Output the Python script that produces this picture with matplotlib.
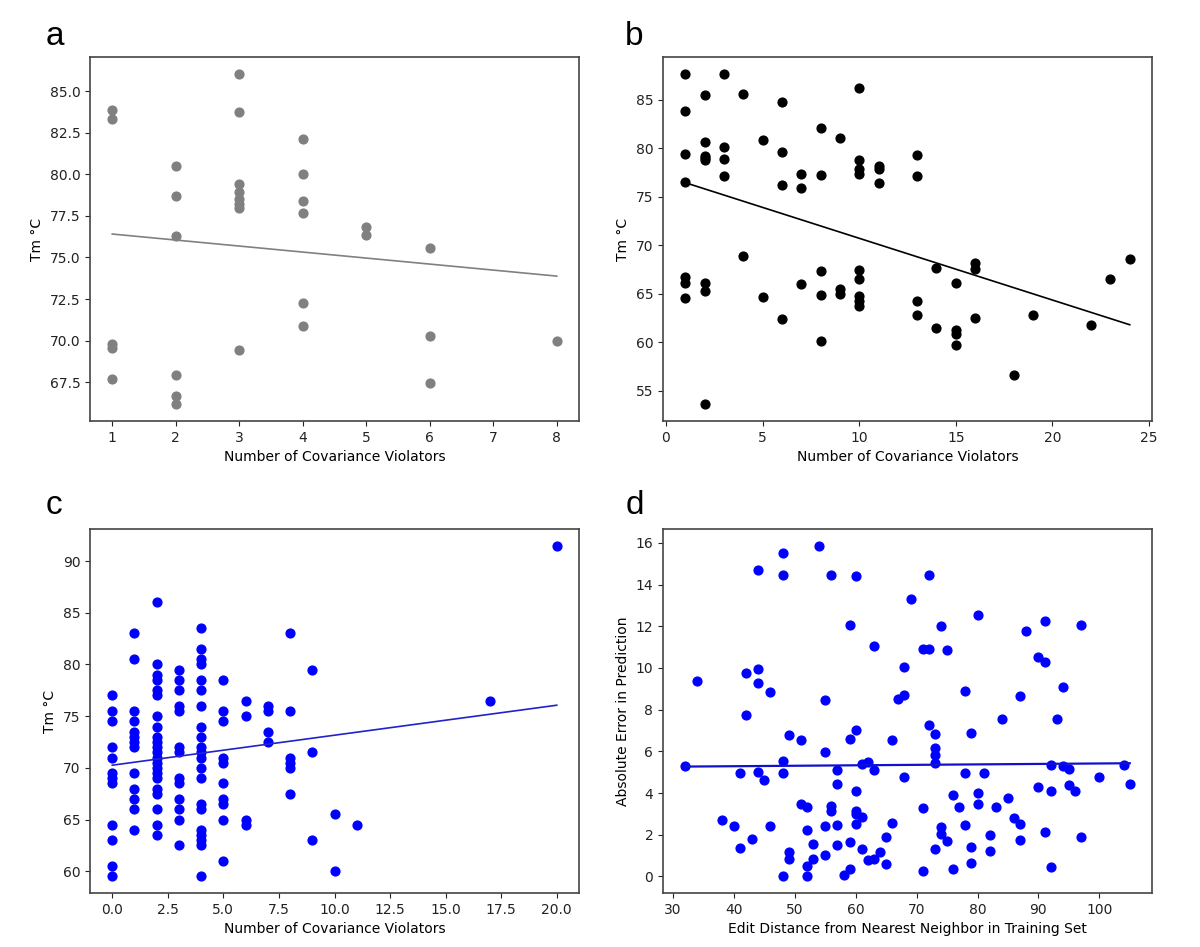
import matplotlib
matplotlib.use("Agg")
import matplotlib.pyplot as plt

# panel a: grey points
a_x = [1, 1, 1, 1, 1,
       2, 2, 2, 2, 2, 2,
       3, 3, 3, 3, 3, 3, 3, 3,
       4, 4, 4, 4, 4, 4,
       5, 5,
       6, 6, 6,
       8]
a_y = [83.86, 83.31, 69.77, 69.55, 67.70,
       80.50, 78.70, 76.29, 67.96, 66.66, 66.16,
       86.06, 83.72, 79.42, 78.94, 78.54, 78.24, 78.00, 69.45,
       82.13, 80.00, 78.40, 77.70, 72.24, 70.85,
       76.81, 76.37,
       75.57, 70.25, 67.44,
       69.95]
a_trend_x = [1, 8]
a_trend_y = [76.41, 73.88]

# panel b: black points
b_x = [1, 1, 1, 1, 1, 1, 1,
       2, 2, 2, 2, 2, 2, 2, 2,
       3, 3, 3, 3,
       4, 4,
       5, 5,
       6, 6, 6, 6,
       7, 7, 7,
       8, 8, 8, 8, 8,
       9, 9, 9,
       10, 10, 10, 10, 10, 10, 10, 10, 10,
       11, 11, 11,
       13, 13, 13, 13,
       14, 14,
       15, 15, 15, 15,
       16, 16, 16,
       18, 19, 22, 23, 24]
b_y = [87.61, 83.86, 79.39, 76.47, 66.70, 66.11, 64.57,
       85.45, 80.60, 79.22, 79.01, 78.74, 66.11, 65.25, 53.56,
       87.68, 80.08, 78.88, 77.12,
       85.62, 68.90,
       80.80, 64.60,
       84.72, 79.56, 76.19, 62.36,
       77.29, 75.85, 66.01,
       82.11, 77.26, 67.35, 64.84, 60.13,
       81.04, 65.46, 64.98,
       86.24, 78.77, 77.84, 77.36, 67.39, 66.53, 64.75, 64.20, 63.67,
       78.12, 77.88, 76.37,
       79.26, 77.12, 64.19, 62.74,
       67.59, 61.44,
       66.05, 61.26, 60.85, 59.72,
       68.18, 67.56, 62.47,
       56.62, 62.74, 61.78, 66.46, 68.56]
b_trend_x = [1, 24]
b_trend_y = [76.43, 61.78]

# panel c: blue points
c_x = ([0] * 12 + [1] * 13 + [2] * 22 + [3] * 13 + [4] * 21 + [5] * 10
       + [6] * 4 + [7] * 4 + [8] * 6 + [9] * 3 + [10] * 2 + [11, 17, 20])
c_y = [77.0, 75.5, 74.5, 72.0, 71.0, 69.5, 69.0, 68.5, 64.5, 63.0, 60.5, 59.5,
       83.0, 80.5, 75.5, 74.5, 73.5, 73.0, 72.5, 72.0, 69.5, 68.0, 67.0, 66.0, 64.0,
       86.0, 80.0, 79.0, 78.5, 77.5, 77.0, 75.0, 74.0, 73.0, 72.5, 72.0, 71.5,
       71.0, 70.5, 70.0, 69.5, 69.0, 68.0, 67.5, 66.0, 64.5, 63.5,
       79.5, 78.5, 77.5, 76.0, 75.5, 72.0, 71.5, 69.0, 68.5, 67.0, 66.0, 65.0, 62.5,
       83.5, 81.5, 80.5, 80.0, 78.5, 77.5, 76.0, 74.0, 73.0, 72.0, 71.5, 71.0,
       70.0, 69.0, 66.5, 66.0, 64.0, 63.5, 63.0, 62.5, 59.5,
       78.5, 75.5, 74.5, 71.0, 70.5, 68.5, 67.0, 66.5, 65.0, 61.0,
       76.5, 75.0, 65.0, 64.5,
       76.0, 75.5, 73.5, 72.5,
       83.0, 75.5, 71.0, 70.5, 70.0, 67.5,
       79.5, 71.5, 63.0,
       65.5, 60.0,
       64.5, 76.5, 91.5]
c_trend_x = [0, 20]
c_trend_y = [70.26, 76.06]

# panel d: blue points
d_x = [32, 34, 38, 40, 41, 41, 42, 42, 43, 44, 44, 44, 44, 45, 46, 46,
       48, 48, 48, 48, 48, 49, 49, 49, 51, 51, 52, 52, 52, 52, 53, 53,
       54, 55, 55, 55, 55, 56, 56, 56, 57, 57, 57, 57, 58, 59, 59, 59, 59,
       60, 60, 60, 60, 60, 60, 61, 61, 61, 62, 62, 63, 63, 63, 64, 65, 65,
       66, 66, 67, 68, 68, 68, 69, 71, 71, 71, 72, 72, 72, 73, 73, 73, 73, 73,
       74, 74, 74, 75, 75, 76, 76, 77, 78, 78, 78, 79, 79, 79, 80, 80, 80,
       81, 82, 82, 83, 84, 85, 86, 87, 87, 87, 88, 90, 90, 91, 91, 91,
       92, 92, 92, 93, 94, 94, 95, 95, 96, 97, 97, 100, 104, 105]
d_y = [5.30, 9.36, 2.70, 2.40, 1.36, 4.98, 9.77, 7.76, 1.82, 14.71, 9.93, 9.26, 5.03, 4.63, 8.83, 2.40,
       15.49, 14.48, 5.54, 4.98, 0.00, 6.79, 1.15, 0.86, 6.53, 3.46, 3.35, 2.24, 0.48, 0.00, 1.55, 0.83,
       15.87, 8.48, 5.96, 2.43, 1.04, 14.48, 3.39, 3.15, 5.09, 4.42, 2.46, 1.50, 0.08, 12.07, 6.58, 1.66, 0.35,
       14.39, 7.03, 4.10, 3.15, 2.99, 2.51, 5.38, 2.86, 1.31, 5.49, 0.78, 11.05, 5.09, 0.83, 1.15, 1.87, 0.59,
       6.56, 2.55, 8.51, 10.03, 8.70, 4.79, 13.30, 10.91, 3.29, 0.27, 14.48, 10.89, 7.25, 6.82, 6.16, 5.81, 5.43, 1.34,
       12.01, 2.35, 2.03, 10.84, 1.68, 3.90, 0.37, 3.31, 8.89, 4.95, 2.46, 6.90, 1.42, 0.64, 12.55, 4.01, 3.46,
       4.95, 2.01, 1.20, 3.31, 7.55, 3.75, 2.81, 8.65, 2.51, 1.77, 11.78, 10.52, 4.30, 12.26, 10.27, 2.11,
       5.35, 4.10, 0.45, 7.57, 9.09, 5.30, 5.17, 4.37, 4.10, 12.04, 1.87, 4.79, 5.35, 4.42]
d_trend_x = [32, 105]
d_trend_y = [5.27, 5.43]

fig = plt.figure(figsize=(12, 9.47), dpi=100)
ax_a = fig.add_axes([0.075, 0.5554, 0.4075, 0.3844])
ax_b = fig.add_axes([0.5525, 0.5554, 0.4075, 0.3844])
ax_c = fig.add_axes([0.075, 0.057, 0.4075, 0.3844])
ax_d = fig.add_axes([0.5525, 0.057, 0.4075, 0.3844])

ax_a.scatter(a_x, a_y, color='gray', s=40)
ax_a.plot(a_trend_x, a_trend_y, color='gray', linewidth=1.2)
ax_a.set_xlabel('Number of Covariance Violators')
ax_a.set_ylabel('Tm °C')

ax_b.scatter(b_x, b_y, color='black', s=40)
ax_b.plot(b_trend_x, b_trend_y, color='black', linewidth=1.2)
ax_b.set_xlabel('Number of Covariance Violators')
ax_b.set_ylabel('Tm °C')

ax_c.scatter(c_x, c_y, color='blue', s=40)
ax_c.plot(c_trend_x, c_trend_y, color='#2222cc', linewidth=1.2)
ax_c.set_xlabel('Number of Covariance Violators')
ax_c.set_ylabel('Tm °C')

ax_d.scatter(d_x, d_y, color='blue', s=40)
ax_d.plot(d_trend_x, d_trend_y, color='#1111cc', linewidth=1.6)
ax_d.set_xlabel('Edit Distance from Nearest Neighbor in Training Set')
ax_d.set_ylabel('Absolute Error in Prediction')

for ax in [ax_a, ax_b, ax_c, ax_d]:
    for sp in ax.spines.values():
        sp.set_color('#444444')
        sp.set_linewidth(1.2)
    ax.tick_params(colors='#222222')

panel_letters = ['a', 'b', 'c', 'd']
letter_pos = [(0.038, 0.953), (0.521, 0.953), (0.038, 0.457), (0.521, 0.457)]
for letter, (lx, ly) in zip(panel_letters, letter_pos):
    fig.text(lx, ly, letter, fontsize=24, family='Liberation Sans', va='baseline')

fig.savefig('out.png', dpi=100)
